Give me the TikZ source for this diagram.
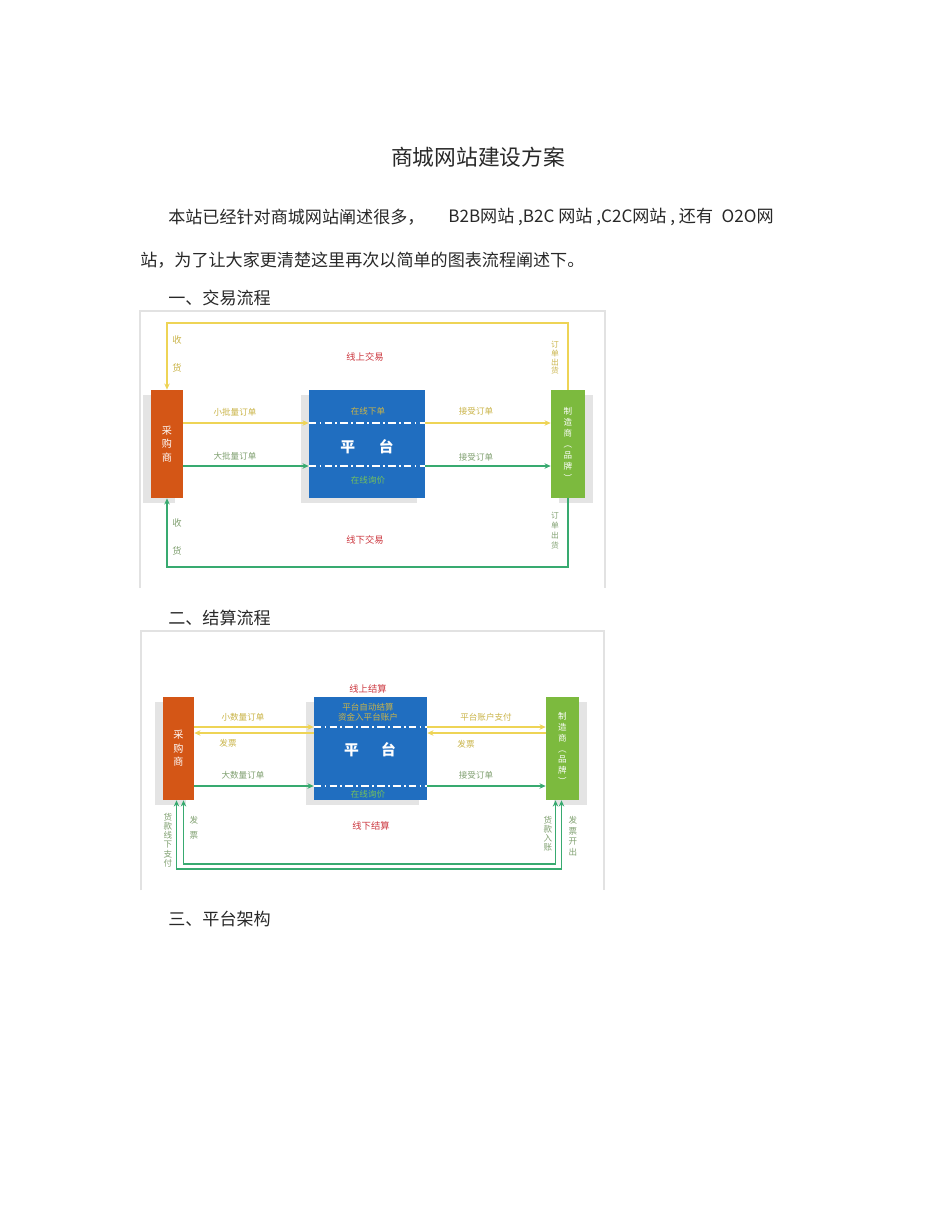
\documentclass[tikz,border=0pt]{standalone}
\usepackage{fontspec}
\setmainfont{Noto Sans CJK SC}
\usepackage{xcolor}
\usetikzlibrary{calc,shapes,positioning,shadows,arrows.meta}
\definecolor{buyer}{RGB}{212,86,22}
\definecolor{platform}{RGB}{32,110,192}
\definecolor{maker}{RGB}{124,186,62}
\definecolor{online}{RGB}{238,212,86}
\definecolor{offline}{RGB}{56,170,112}
\definecolor{deal}{RGB}{204,56,64}
\definecolor{ochre}{RGB}{202,180,72}
\definecolor{sage}{RGB}{128,160,112}
\definecolor{leaf}{RGB}{116,192,92}
\definecolor{ink}{RGB}{40,40,40}
\definecolor{edge}{RGB}{226,226,226}
\newcommand{\pix}{0.644pt}
\newcommand{\titlefont}{\fontsize{14}{16}\selectfont}
\newcommand{\bodyfont}{\fontsize{11}{13}\selectfont}
\newcommand{\tagfont}{\fontsize{5.5}{7}\selectfont}
\newcommand{\boxfont}{\fontsize{6.5}{8.7}\selectfont}
\newcommand{\bigfont}{\fontsize{9.5}{11}\selectfont\bfseries}

\begin{document}
\begin{tikzpicture}[x=\pix, y=-\pix,
    party/.style={inner sep=0pt, text=white, align=center, font=\boxfont},
    shadeL/.style={drop shadow={shadow xshift=-5pt, shadow yshift=-3.5pt, fill=black!30, opacity=.35}},
    shadeR/.style={drop shadow={shadow xshift=5pt, shadow yshift=-3.5pt, fill=black!30, opacity=.35}},
    flow/.style={line width=1.2pt, -{Stealth[length=4pt,width=3.5pt]}},
    cut/.style={white, line width=0.9pt, dash pattern=on 5pt off 2pt on 1.2pt off 2pt},
    tag/.style={inner sep=0pt, font=\tagfont},
    vtag/.style={tag, align=center},
    frame/.style={draw=edge, line width=0.8pt},
    line/.style={anchor=west, inner sep=0pt, font=\bodyfont, text=ink}]
\fill[white] (0,0) rectangle (950,1230);
\useasboundingbox (0,0) rectangle (950,1230);

\node[font=\titlefont, text=ink] (title) at (478,157) {商城网站建设方案};
\node[line] (introA) at (168,217) {本站已经针对商城网站阐述很多，};
\node[line] (introB) at (448,217) {B2B网站 ,B2C 网站 ,C2C网站 , 还有\enspace O2O网};
\node[line] (introC) at (140,260) {站，为了让大家更清楚这里再次以简单的图表流程阐述下。};
\node[line] (headA) at (168,298) {一、交易流程};
\node[line] (headB) at (168,618) {二、结算流程};
\node[line] (headC) at (168,919) {三、平台架构};

% 交易流程
\draw[frame] (140,588) -- (140,311) -- (605,311) -- (605,588);
\coordinate (topA) at (360,323);
\coordinate (botA) at (360,567);
\coordinate (smallA) at (0,423);
\coordinate (bigA) at (0,466);
\node[party, fill=buyer, minimum width=32*\pix, minimum height=108*\pix, shadeL] (buyerA) at (167,444) {采\\购\\商};
\node[party, fill=platform, minimum width=116*\pix, minimum height=108*\pix, shadeL] (platA) at (367,444) {};
\node[party, fill=maker, minimum width=34*\pix, minimum height=108*\pix, shadeR, font=\fontsize{5.5}{7.2}\selectfont] (makerA) at (568,444) {制\\造\\商\\︵\\品\\牌\\︶};
\draw[flow, draw=online] (makerA.north) |- (topA) -| (buyerA.north);
\draw[flow, draw=offline] (makerA.south) |- (botA) -| (buyerA.south);
\draw[flow, draw=online] (buyerA.east |- smallA) -- (platA.west |- smallA);
\draw[flow, draw=online] (platA.east |- smallA) -- (makerA.west |- smallA);
\draw[flow, draw=offline, line width=1pt] (buyerA.east |- bigA) -- (platA.west |- bigA);
\draw[flow, draw=offline, line width=1pt] (platA.east |- bigA) -- (makerA.west |- bigA);
\draw[cut] (platA.west |- smallA) -- (platA.east |- smallA);
\draw[cut] (platA.west |- bigA) -- (platA.east |- bigA);
\node[tag, text=ochre] (orderA) at (368,411) {在线下单};
\node[font=\bigfont, text=white] (nameA) at (367,447) {平\hspace{1.6em}台};
\node[tag, text=leaf] (askA) at (368,480) {在线询价};
\node[tag, text=deal, font=\fontsize{6}{7}\selectfont] (onA) at (365,357) {线上交易};
\node[tag, text=deal, font=\fontsize{6}{7}\selectfont] (offA) at (365,540) {线下交易};
\node[tag, text=ochre] (smallbuyA) at (235,412) {小批量订单};
\node[tag, text=sage] (bigbuyA) at (235,456) {大批量订单};
\node[tag, text=ochre] (takeA) at (476,411) {接受订单};
\node[tag, text=sage] (takeA2) at (476,457) {接受订单};
\node[vtag, text=ochre, font=\fontsize{6}{18}\selectfont] (getA) at (177,354) {收\\货};
\node[vtag, text=sage, font=\fontsize{6}{18}\selectfont] (getA2) at (177,537) {收\\货};
\node[vtag, text=ochre, font=\fontsize{5}{5.6}\selectfont] (shipA) at (555,358) {订\\单\\出\\货};
\node[vtag, text=sage, font=\fontsize{5}{6.4}\selectfont] (shipA2) at (555,531) {订\\单\\出\\货};

% 结算流程
\draw[frame] (141,890) -- (141,631) -- (604,631) -- (604,890);
\coordinate (payB) at (0,727);
\coordinate (billB) at (0,733);
\coordinate (bigB) at (0,786);
\coordinate (outB) at (370,869);
\coordinate (inB) at (370,864);
\node[party, fill=buyer, minimum width=31*\pix, minimum height=103*\pix, shadeL] (buyerB) at (178.5,748.5) {采\\购\\商};
\node[party, fill=platform, minimum width=113*\pix, minimum height=103*\pix, shadeL] (platB) at (370.5,748.5) {};
\node[party, fill=maker, minimum width=33*\pix, minimum height=103*\pix, shadeR, font=\fontsize{5.5}{7}\selectfont] (makerB) at (562.5,748.5) {制\\造\\商\\︵\\品\\牌\\︶};
\draw[flow, draw=online, line width=1pt] (buyerB.east |- payB) -- (platB.west |- payB);
\draw[flow, draw=online, line width=1pt] (platB.east |- payB) -- (makerB.west |- payB);
\draw[flow, draw=online, line width=1pt] (platB.west |- billB) -- (buyerB.east |- billB);
\draw[flow, draw=online, line width=1pt] (makerB.west |- billB) -- (platB.east |- billB);
\draw[flow, draw=offline, line width=1pt] (buyerB.east |- bigB) -- (platB.west |- bigB);
\draw[flow, draw=offline, line width=1pt] (platB.east |- bigB) -- (makerB.west |- bigB);
\draw[cut] (platB.west |- payB) -- (platB.east |- payB);
\draw[cut] (platB.west |- bigB) -- (platB.east |- bigB);
\draw[flow, draw=offline, {Stealth[length=4pt,width=3.5pt]}-{Stealth[length=4pt,width=3.5pt]}] ($(buyerB.south)+(-2,0)$) |- (outB) -| ($(makerB.south)+(-1,0)$);
\draw[flow, draw=offline, {Stealth[length=4pt,width=3.5pt]}-{Stealth[length=4pt,width=3.5pt]}] ($(buyerB.south)+(5,0)$) |- (inB) -| ($(makerB.south)+(-7,0)$);
\node[tag, text=ochre, align=center, font=\fontsize{5.5}{6.2}\selectfont] (autoB) at (368,712) {平台自动结算\\资金入平台账户};
\node[font=\bigfont, text=white] (nameB) at (370,750) {平\hspace{1.5em}台};
\node[tag, text=leaf] (askB) at (368,794) {在线询价};
\node[tag, text=deal, font=\fontsize{6}{7}\selectfont] (onB) at (368,689) {线上结算};
\node[tag, text=deal, font=\fontsize{6}{7}\selectfont] (offB) at (371,826) {线下结算};
\node[tag, text=ochre] (smallbuyB) at (243,717) {小数量订单};
\node[tag, text=ochre] (billbuyB) at (228,743) {发票};
\node[tag, text=sage] (bigbuyB) at (243,775) {大数量订单};
\node[tag, text=ochre] (paidB) at (486,717) {平台账户支付};
\node[tag, text=ochre] (billmakeB) at (466,744) {发票};
\node[tag, text=sage] (takeB) at (476,775) {接受订单};
\node[vtag, text=sage, font=\fontsize{5.5}{5.9}\selectfont] (cashB) at (168,840) {货\\款\\线\\下\\支\\付};
\node[vtag, text=sage, font=\fontsize{5.5}{9.7}\selectfont] (slipB) at (194,828) {发\\票};
\node[vtag, text=sage, font=\fontsize{5.5}{5.9}\selectfont] (cashinB) at (548,834) {货\\款\\入\\账};
\node[vtag, text=sage, font=\fontsize{5.5}{6.8}\selectfont] (slipoutB) at (573,836) {发\\票\\开\\出};
\end{tikzpicture}
\end{document}
